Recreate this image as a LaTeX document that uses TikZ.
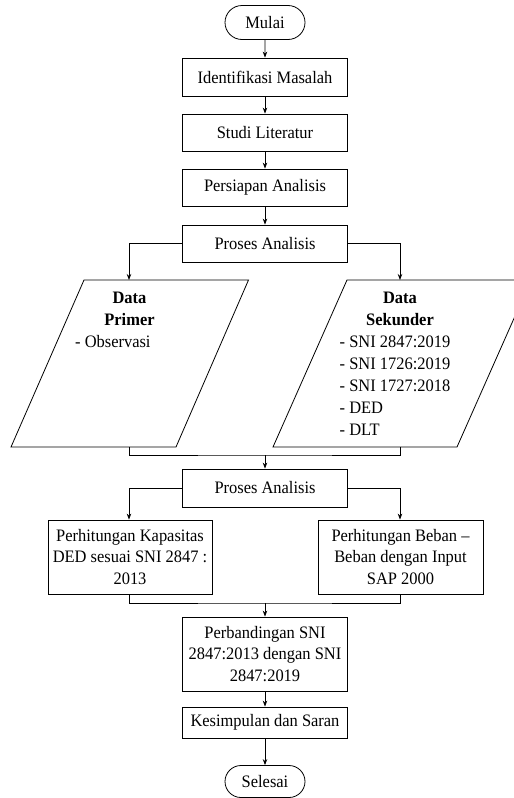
\documentclass[tikz,border=0pt]{standalone}
\usepackage{fontspec}
\setmainfont[FakeStretch=0.94]{Liberation Serif}
\usetikzlibrary{arrows.meta,shapes.misc}
\newcommand{\fsz}{\fontsize{17.5}{21.5}\selectfont}
\tikzset{
  proc/.style={draw, line width=0.8pt, minimum width=165pt, minimum height=38pt, align=center, inner sep=2pt, font=\fsz},
  term/.style={draw, line width=0.8pt, rounded rectangle, minimum width=84pt, minimum height=34pt, inner sep=2pt, font=\fsz},
  conn/.style={line width=0.8pt},
  arr/.style={line width=0.8pt, -{Stealth[length=6pt,width=4.5pt]}},
  plain/.style={inner sep=0pt, font=\fontsize{17.5}{22}\selectfont},
  bhead/.style={inner sep=0pt, align=center, font=\fontsize{17.5}{22}\selectfont\bfseries}
}
\begin{document}
\begin{tikzpicture}[x=1pt,y=-1pt]
\useasboundingbox (0,0) rectangle (514,798);
\clip (0,0) rectangle (514,798);
% main column
\node[term] (start) at (265,22.5) {Mulai};
\node[proc] (ident) at (265,77) {Identifikasi Masalah};
\node[proc, minimum height=37pt] (studi) at (265,132.5) {Studi Literatur};
\node[proc, minimum height=37pt] (prep) at (265,187.5) {Persiapan Analisis};
\node[proc, minimum height=37pt] (pa1) at (265,243.5) {Proses Analisis};
% parallelograms
\coordinate (ltop) at (129,280);
\coordinate (rtop) at (400,280);
\coordinate (lbot) at (129,447);
\coordinate (rbot) at (400,447);
\draw[conn] (84,280) -- (248.5,280) -- (176,447) -- (11,447) -- cycle;
\draw[conn] (347,280) -- (531,280) -- (457,447) -- (273,447) -- cycle;
\node[bhead, anchor=north] (dpt) at (129.5,291.8) {Data\\Primer};
\node[plain, anchor=north west, align=left] (dpl) at (75,335) {- Observasi};
\node[bhead, anchor=north] (dst) at (400,291.8) {Data\\Sekunder};
\node[plain, anchor=north west, align=left] (dsl) at (339.5,335.2) {- SNI 2847:2019\\- SNI 1726:2019\\- SNI 1727:2018\\- DED\\- DLT};
% second analysis
\coordinate (m1) at (265,455);
\node[proc] (pa2) at (265,488) {Proses Analisis};
\node[proc, minimum width=164pt, minimum height=74pt] (kap) at (130,557) {Perhitungan Kapasitas\\DED sesuai SNI 2847 :\\2013};
\node[proc, minimum height=74pt] (beb) at (400.5,557) {Perhitungan Beban --\\Beban dengan Input\\SAP 2000};
\coordinate (m2) at (265,603);
\node[proc, minimum height=74pt] (perb) at (265,654) {Perbandingan SNI\\2847:2013 dengan SNI\\2847:2019};
\node[proc, minimum height=31pt] (kes) at (265,722.5) {Kesimpulan dan Saran};
\node[term, minimum height=32pt] (end) at (265,781.5) {Selesai};
% connectors
\draw[arr] (start) -- (ident);
\draw[arr] (ident) -- (studi);
\draw[arr] (studi) -- (prep);
\draw[arr] (prep) -- (pa1);
\draw[arr] (pa1.west) -| (ltop);
\draw[arr] (pa1.east) -| (rtop);
\draw[conn] (lbot) |- (m1) -| (rbot);
\draw[arr] (m1) -- (pa2);
\draw[arr] (pa2.west) -| (kap.north -| ltop);
\draw[arr] (pa2.east) -| (beb.north -| rtop);
\draw[conn] (kap.south -| lbot) |- (m2) -| (beb.south -| rbot);
\draw[arr] (m2) -- (perb);
\draw[arr] (perb) -- (kes);
\draw[arr] (kes) -- (end);
\end{tikzpicture}
\end{document}
